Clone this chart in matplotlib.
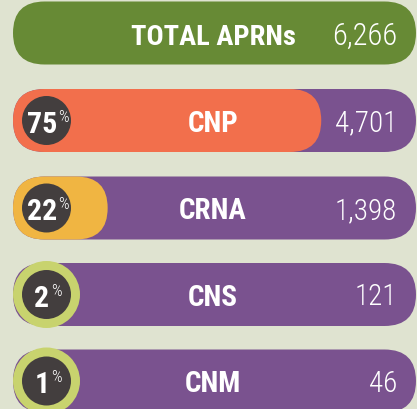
import matplotlib
matplotlib.use("Agg")
import matplotlib.pyplot as plt
from matplotlib.patches import FancyBboxPatch, Circle
from matplotlib import font_manager

# data
total_label = "TOTAL APRNs"
total_value = "6,266"
categories = ["CNP", "CRNA", "CNS", "CNM"]
values = ["4,701", "1,398", "121", "46"]
percents = [75, 22, 2, 1]

# pick a narrow font if one is around
fonts = font_manager.fontManager.ttflist
names = {f.name for f in fonts}
fam = "DejaVu Sans"
narrow = False
for cand in ["Liberation Sans Narrow", "Roboto Condensed", "DejaVu Sans Condensed",
             "Open Sans Condensed", "Noto Sans Condensed"]:
    if cand in names:
        fam = cand
        narrow = True
        break
if not narrow:
    for f in fonts:
        if "condensed" in str(f.stretch) and f.name in ("DejaVu Sans", "Noto Sans", "Roboto", "Open Sans"):
            fam = f.name
            narrow = True
            break
stretch = "condensed"
scale = 1.0 if narrow else 0.8

bg = "#dfe3d0"
green = "#678a35"
purple = "#7a528f"
fill_cols = ["#f26f4c", "#f0b542", "#c8d36e", "#c8d36e"]
dark = "#433e3e"

W, H = 417, 410
fig = plt.figure(figsize=(W / 100, H / 100), dpi=100)
fig.patch.set_facecolor(bg)
ax = fig.add_axes([0, 0, 1, 1])
ax.set_xlim(0, W)
ax.set_ylim(H, 0)
ax.axis("off")

x0, x1 = 13, 416
bh = 63
r = bh / 2
row_y = [121.5, 209, 295.5, 382]


def pill(x, yc, w, color, z):
    p = FancyBboxPatch((x, yc - r), w, bh,
                       boxstyle="round,pad=0,rounding_size=%g" % r,
                       fc=color, ec="none", zorder=z)
    ax.add_patch(p)


def txt(x, y, s, size, weight="bold", ha="center"):
    return ax.text(x, y, s, color="white", fontsize=size * scale,
                   fontweight=weight, family=fam,
                   fontstretch=stretch, ha=ha, va="baseline", zorder=5)


# total bar
pill(x0, 34, x1 - x0, green, 1)
txt(213, 34 + 11, total_label, 20.5)
txt(397, 34 + 10.5, total_value, 22, weight="light", ha="right")

cx = 46.5
for i, (cat, val, pct) in enumerate(zip(categories, values, percents)):
    yc = row_y[i]
    pill(x0, yc, x1 - x0, purple, 1)
    fw = pct / 100 * (x1 - x0)
    if fw > 2 * 33.5:
        pill(x0, yc, fw + 6, fill_cols[i], 2)
    else:
        ax.add_patch(Circle((cx, yc), 33.5, fc=fill_cols[i], ec="none", zorder=2))
    ax.add_patch(Circle((cx, yc), 24.5, fc=dark, ec="none", zorder=3))
    t = txt(cx - 4.5, yc + 11.5, str(pct), 21.5)
    ax.annotate("%", xy=(1, 1), xycoords=t, xytext=(1, 1), textcoords="offset points",
                color="white", fontsize=12 * scale, family=fam, fontstretch=stretch,
                fontweight="light", ha="left", va="top", zorder=5)
    txt(213, yc + 10.5, cat, 21)
    txt(397, yc + 10, val, 21, weight="light", ha="right")

fig.savefig("out.png", dpi=100, facecolor=bg)
